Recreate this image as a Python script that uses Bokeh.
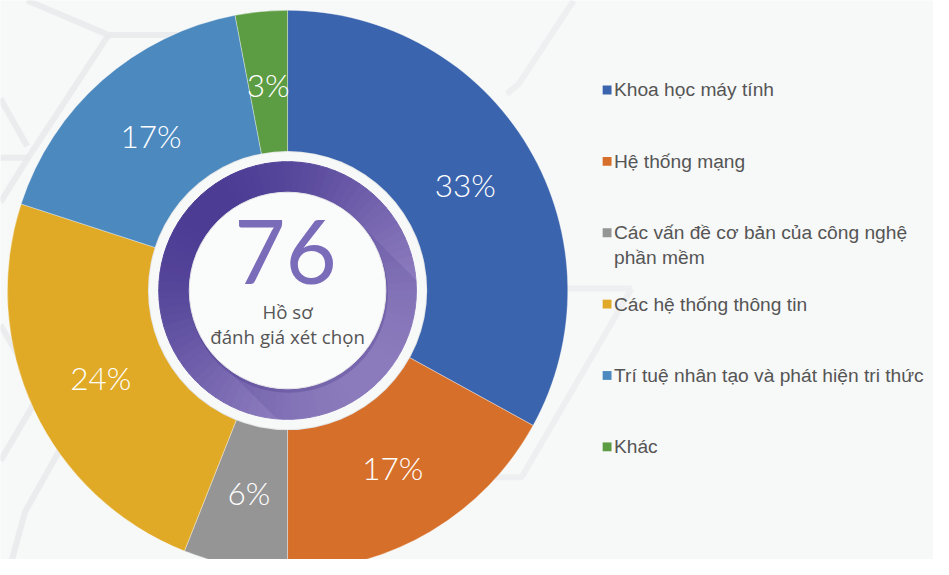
import math
from bokeh.plotting import figure
from bokeh.models import Range1d
from bokeh.core.properties import value
from bokeh.embed import file_html
from bokeh.resources import INLINE

# ---- data ----
categories = ["Khoa học máy tính", "Hệ thống mạng",
              "Các vấn đề cơ bản của công nghệ\nphần mềm",
              "Các hệ thống thông tin",
              "Trí tuệ nhân tạo và phát hiện tri thức", "Khác"]
percents = [33, 17, 6, 24, 17, 3]
colors = ["#3A64AD", "#D66F2A", "#959595", "#E0AA26", "#4C89BF", "#5C9C42"]
total_profiles = "76"
center_lines = ["Hồ sơ", "đánh giá xét chọn"]

W, H = 933, 559
SC = W / 949.0          # uniform scale: reference px -> screen px
def Y(py):  # reference pixel-from-top -> data
    return 575 - py
def FS(px):
    return "%.1fpx" % (px * SC)

p = figure(width=W, height=H, output_backend="svg", toolbar_location=None,
           x_range=Range1d(0, 949), y_range=Range1d(575 - H / SC, 575),
           min_border=0, border_fill_color="#F7F8F8", background_fill_color="#F7F8F8")
p.axis.visible = False
p.grid.visible = False
p.outline_line_color = None

# faint hexagon background lines (decoration)
bg = "#E9EAEB"
hex_lines = [
    ([27, 110, 260], [0, 35, 35]),
    ([110, 28, 0], [35, 160, 205]),
    ([0, 30], [160, 160]),
    ([0, 27], [100, 148]),
    ([0, 40, 70], [330, 400, 400]),
    ([40, 0], [400, 468]),
    ([70, 25, 10], [440, 520, 575]),
]
for xs, ys in hex_lines:
    p.line(xs, [Y(v) for v in ys], line_color=bg, line_width=6, line_alpha=0.9)
light = "#EEEFF0"
for xs, ys in [([583, 527, 515], [0, 85, 95]),
               ([560, 642], [293, 293]),
               ([642, 530, 470], [293, 485, 485])]:
    p.line(xs, [Y(v) for v in ys], line_color=light, line_width=6)

cx, cy = 292, Y(295)
R_out, R_in = 285, 136

# donut slices, clockwise from top
cum = 0.0
starts, ends, mids = [], [], []
tot = float(sum(percents))
for v in percents:
    a0 = math.pi / 2 - 2 * math.pi * cum / tot
    cum += v
    a1 = math.pi / 2 - 2 * math.pi * cum / tot
    starts.append(a0); ends.append(a1); mids.append((a0 + a1) / 2)
p.annular_wedge(x=[cx] * len(percents), y=[cy] * len(percents),
                inner_radius=R_in, outer_radius=R_out,
                start_angle=starts, end_angle=ends, direction="clock",
                fill_color=colors, line_color="#FFFFFF", line_alpha=0.35, line_width=1)

# percent labels
r_lab = 210
p.text(x=[cx + r_lab * math.cos(m) for m in mids],
       y=[cy + r_lab * math.sin(m) for m in mids],
       text=[f"{v}%" for v in percents], text_color="#FFFFFF",
       text_font=value("Lato Light"), text_font_size=FS(32),
       text_align="center", text_baseline="middle")

# white ring
p.circle(x=[cx], y=[cy], radius=142, fill_color="#E4E6E7", line_color=None)
p.circle(x=[cx], y=[cy], radius=141, fill_color="#F7F9F9", line_color=None)

# purple gradient ring
N = 90
dark = (0x4C, 0x3C, 0x94)
lite = (0x9A, 0x89, 0xC7)
seg_s, seg_e, seg_c = [], [], []
for i in range(N):
    a0 = 2 * math.pi * i / N
    a1 = 2 * math.pi * (i + 1) / N
    am = (a0 + a1) / 2
    t = (1 - math.cos(am - math.radians(135))) / 2
    c = tuple(int(dark[k] + (lite[k] - dark[k]) * t) for k in range(3))
    seg_s.append(a0); seg_e.append(a1 + 0.004)
    seg_c.append("#%02X%02X%02X" % c)
p.annular_wedge(x=[cx] * N, y=[cy] * N, inner_radius=99, outer_radius=131,
                start_angle=seg_s, end_angle=seg_e, fill_color=seg_c,
                line_color=seg_c, line_width=1)

# long shadow inside purple ring
ri, ro = 100, 131
sx, sy = [], []
for k in range(41):
    a = math.radians(45 - 180 * k / 40)
    sx.append(cx + ri * math.cos(a)); sy.append(cy + ri * math.sin(a))
off = math.degrees(math.atan2(math.sqrt(ro**2 - ri**2), ri))
for k in range(41):
    a = math.radians(-135 + off + (180 - 2 * off) * k / 40)
    sx.append(cx + ro * math.cos(a)); sy.append(cy + ro * math.sin(a))
p.patch(sx, sy, fill_color="#3A2A80", fill_alpha=0.14, line_color=None)

# inner white disc with soft shadow
p.circle(x=[cx + 1], y=[cy - 3], radius=101, fill_color="#3A2A80", fill_alpha=0.25, line_color=None)
p.circle(x=[cx], y=[cy], radius=100, fill_color="#FAFBFB", line_color="#E6E6E8", line_width=1)

p.text(x=[cx - 2], y=[Y(256)], text=[total_profiles], text_color="#7B6CBA",
       text_font=value("Lato"), text_font_size=FS(90),
       text_align="center", text_baseline="middle")
p.text(x=[cx, cx], y=[Y(316), Y(342)], text=center_lines, text_color="#555555",
       text_font=value("Open Sans"), text_font_size=FS(19),
       text_align="center", text_baseline="middle")

# legend
lx, ly0, dy = 617, 91, 72.6
for i, (lab, col) in enumerate(zip(categories, colors)):
    yy = ly0 + dy * i
    p.rect(x=[lx], y=[Y(yy)], width=9, height=9, fill_color=col, line_color=None)
    for j, part in enumerate(lab.split("\n")):
        p.text(x=[lx + 7], y=[Y(yy + 25 * j)], text=[part], text_color="#555555",
               text_font=value("Liberation Sans"), text_font_size=FS(19.5),
               text_align="left", text_baseline="middle")

open("out.html", "w").write(file_html(p, INLINE))
